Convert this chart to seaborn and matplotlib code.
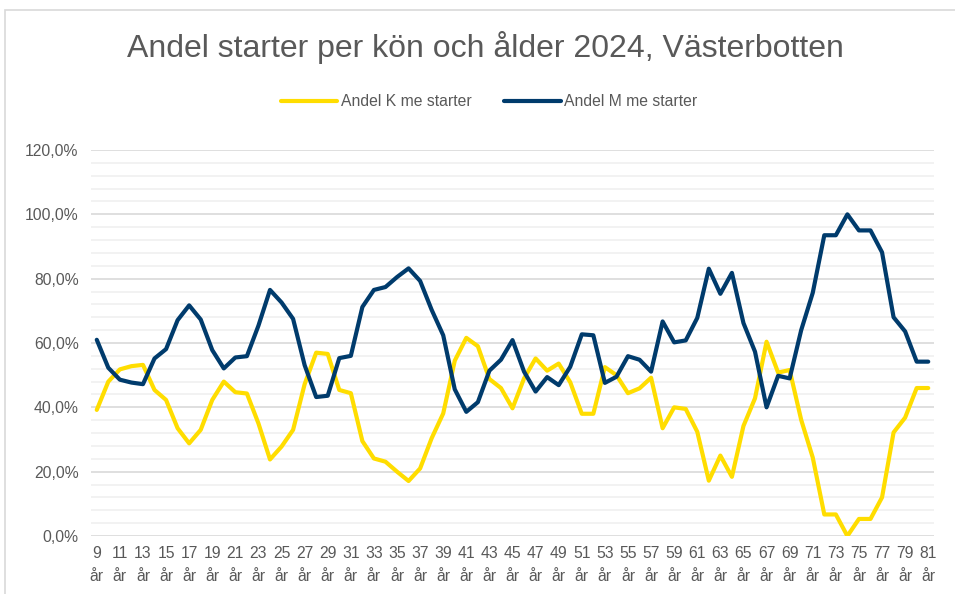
import matplotlib

matplotlib.use("Agg")

import matplotlib.pyplot as plt  # noqa: E402
import numpy as np  # noqa: E402
import pandas as pd  # noqa: E402
import seaborn as sns  # noqa: E402
from matplotlib.patches import Rectangle  # noqa: E402
from matplotlib.ticker import FuncFormatter, MultipleLocator  # noqa: E402

TITLE = "Andel starter per kön och ålder 2024, Västerbotten"
SERIES_NAMES = ["Andel K me starter", "Andel M me starter"]
COLORS = ["#FFDD00", "#003B6C"]

AGES = list(range(9, 82))
AGE_LABELS = [f"{a}\når" if a % 2 == 1 else "" for a in AGES]

# Share (%) per age
ANDEL_K = [
    39.2, 48.0, 51.8, 52.8, 53.2, 45.4, 42.3, 33.5, 28.8, 33.0,
    42.3, 48.0, 44.7, 44.3, 35.0, 23.8, 27.8, 33.0, 47.2, 57.0,
    56.6, 45.4, 44.4, 29.5, 24.1, 23.1, 20.0, 17.1, 21.0, 30.4,
    38.1, 54.5, 61.6, 59.0, 48.8, 46.0, 39.7, 49.0, 55.2, 51.4,
    53.6, 47.8, 38.0, 38.0, 52.5, 50.0, 44.4, 45.9, 49.2, 33.5,
    40.0, 39.5, 32.4, 17.2, 25.0, 18.4, 34.2, 42.8, 60.4, 50.8,
    51.6, 36.1, 24.4, 6.7, 6.7, 0.0, 5.3, 5.3, 12.0, 32.2,
    36.8, 46.0, 46.0,
]
ANDEL_M = [
    61.0, 52.3, 48.6, 47.7, 47.2, 55.2, 58.1, 67.1, 71.7, 67.3,
    57.8, 52.1, 55.5, 55.9, 65.4, 76.5, 72.6, 67.5, 53.1, 43.2,
    43.6, 55.3, 56.0, 71.2, 76.5, 77.4, 80.5, 83.2, 79.3, 70.3,
    62.4, 45.6, 38.6, 41.6, 51.4, 54.8, 60.9, 51.1, 44.9, 49.4,
    46.9, 52.6, 62.7, 62.4, 47.6, 49.5, 55.9, 54.8, 51.1, 66.7,
    60.2, 60.8, 67.8, 83.1, 75.3, 81.8, 66.2, 57.3, 40.0, 49.8,
    49.0, 64.0, 75.6, 93.5, 93.5, 100.0, 95.0, 95.0, 88.2, 68.0,
    63.6, 54.2, 54.2,
]

TEXT_COLOR = "#595959"
FONT = ["Liberation Sans", "Arial", "DejaVu Sans"]

sns.set_theme(style="white")
plt.rcParams["font.family"] = FONT

df = pd.DataFrame(
    {
        "pos": np.tile(np.arange(len(AGES)), 2),
        "andel": np.array(ANDEL_K + ANDEL_M) / 100.0,
        "serie": np.repeat(SERIES_NAMES, len(AGES)),
    }
)

W, H = 955, 594
fig = plt.figure(figsize=(W / 100, H / 100), dpi=100)
ax = fig.add_axes([91 / W, (H - 536) / H, (934 - 91) / W, (536 - 150) / H])

sns.lineplot(
    data=df,
    x="pos",
    y="andel",
    hue="serie",
    hue_order=SERIES_NAMES,
    palette=COLORS,
    linewidth=3.0,
    ax=ax,
    legend=False,
    zorder=3,
)

ax.set_xlim(-0.5, len(AGES) - 0.5)
ax.set_ylim(0, 1.2)
ax.set_xticks(range(len(AGES)))
ax.set_xticklabels(AGE_LABELS, fontsize=11.3, color=TEXT_COLOR, linespacing=1.65)
ax.yaxis.set_major_locator(MultipleLocator(0.2))
ax.yaxis.set_minor_locator(MultipleLocator(0.04))
ax.yaxis.set_major_formatter(
    FuncFormatter(lambda v, _: f"{v * 100:.1f}%".replace(".", ","))
)
ax.tick_params(axis="y", labelsize=11.3, labelcolor=TEXT_COLOR, length=0, pad=9)
ax.tick_params(axis="x", length=0, pad=7)
ax.grid(axis="y", which="major", color="#D9D9D9", linewidth=1.2, zorder=0)
ax.grid(axis="y", which="minor", color="#F0F0F0", linewidth=1.2, zorder=0)
ax.grid(axis="x", visible=False)
for spine in ax.spines.values():
    spine.set_visible(False)
ax.set_xlabel("")
ax.set_ylabel("")

fig.text(485 / W, 1 - 48 / H, TITLE, ha="center", va="center",
         fontsize=23, color=TEXT_COLOR)

handles = [plt.Line2D([], [], color=c, linewidth=3.0) for c in COLORS]
fig.legend(
    handles,
    SERIES_NAMES,
    loc="center",
    bbox_to_anchor=(489 / W, 1 - 102 / H),
    ncol=2,
    frameon=False,
    fontsize=11.3,
    labelcolor=TEXT_COLOR,
    handlelength=3.6,
    handletextpad=0.2,
    columnspacing=2.1,
)

# chart-area frame (only left and top edges are visible in the crop)
fig.patches.append(
    Rectangle((5 / W, -0.05), 1.2, 1 - 10 / H + 0.05, transform=fig.transFigure,
              fill=False, edgecolor="#D9D9D9", linewidth=1.2)
)

fig.savefig("out.png", dpi=100)
plt.close(fig)
